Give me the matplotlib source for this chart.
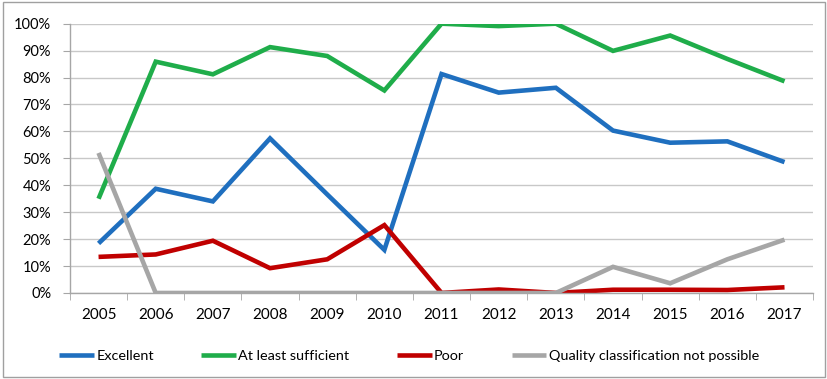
import matplotlib
matplotlib.use("Agg")
import matplotlib.pyplot as plt
from matplotlib.patches import Rectangle
from matplotlib.ticker import FuncFormatter

plt.rcParams['font.family'] = ['Lato', 'DejaVu Sans']

years = ['2005', '2006', '2007', '2008', '2009', '2010', '2011',
         '2012', '2013', '2014', '2015', '2016', '2017']
excellent = [18.4, 38.7, 34.0, 57.4, 36.6, 16.0, 81.3, 74.4, 76.2, 60.3, 55.8, 56.3, 48.6]
sufficient = [35.0, 85.9, 81.2, 91.3, 88.0, 75.2, 100.0, 99.1, 100.0, 89.9, 95.6, 86.9, 78.6]
poor = [13.4, 14.3, 19.4, 9.2, 12.5, 25.2, 0.0, 1.3, 0.0, 1.2, 1.2, 1.1, 2.1]
not_possible = [52.0, 0.0, 0.0, 0.0, 0.0, 0.0, 0.0, 0.0, 0.0, 9.7, 3.6, 12.5, 19.8]

series = [
    ('Excellent', excellent, '#1f6fbf'),
    ('At least sufficient', sufficient, '#1fad4a'),
    ('Poor', poor, '#c00000'),
    ('Quality classification not possible', not_possible, '#a6a6a6'),
]

fig = plt.figure(figsize=(8.28, 3.79), dpi=100)
ax = fig.add_axes([0.0845, 0.227, 0.8975, 0.7105])

x = list(range(len(years)))
for name, vals, col in series:
    ax.plot(x, vals, color=col, lw=3.3, label=name, solid_capstyle='butt',
            solid_joinstyle='miter')

ax.set_xlim(-0.5, len(years) - 0.5)
ax.set_ylim(0, 100)
ax.set_yticks(range(0, 101, 10))
ax.yaxis.set_major_formatter(FuncFormatter(lambda v, p: '%d%%' % v))
ax.set_xticks(x)
ax.set_xticklabels(years)
ax.set_xticks([i - 0.5 for i in range(len(years) + 1)], minor=True)

ax.grid(axis='y', color='#c8c8c8', lw=1)
ax.set_axisbelow(True)
for s in ['top', 'right']:
    ax.spines[s].set_visible(False)
for s in ['left', 'bottom']:
    ax.spines[s].set_color('#a6a6a6')
    ax.spines[s].set_linewidth(1)

ax.tick_params(axis='x', which='major', length=0, pad=11, labelsize=11)
ax.tick_params(axis='x', which='minor', length=5, color='#a6a6a6')
ax.tick_params(axis='y', length=5, color='#a6a6a6', labelsize=10.5, pad=8.5)

fig.legend(loc='center', bbox_to_anchor=(0.494, 0.062), ncol=4, frameon=False,
           fontsize=10.4, handlelength=2.4, handletextpad=0.15, columnspacing=3.3)

fig.patches.append(Rectangle((0.004, 0.006), 0.992, 0.988, transform=fig.transFigure,
                             fill=False, edgecolor='#a0a0a0', lw=1))

fig.savefig('out.png', dpi=100)
